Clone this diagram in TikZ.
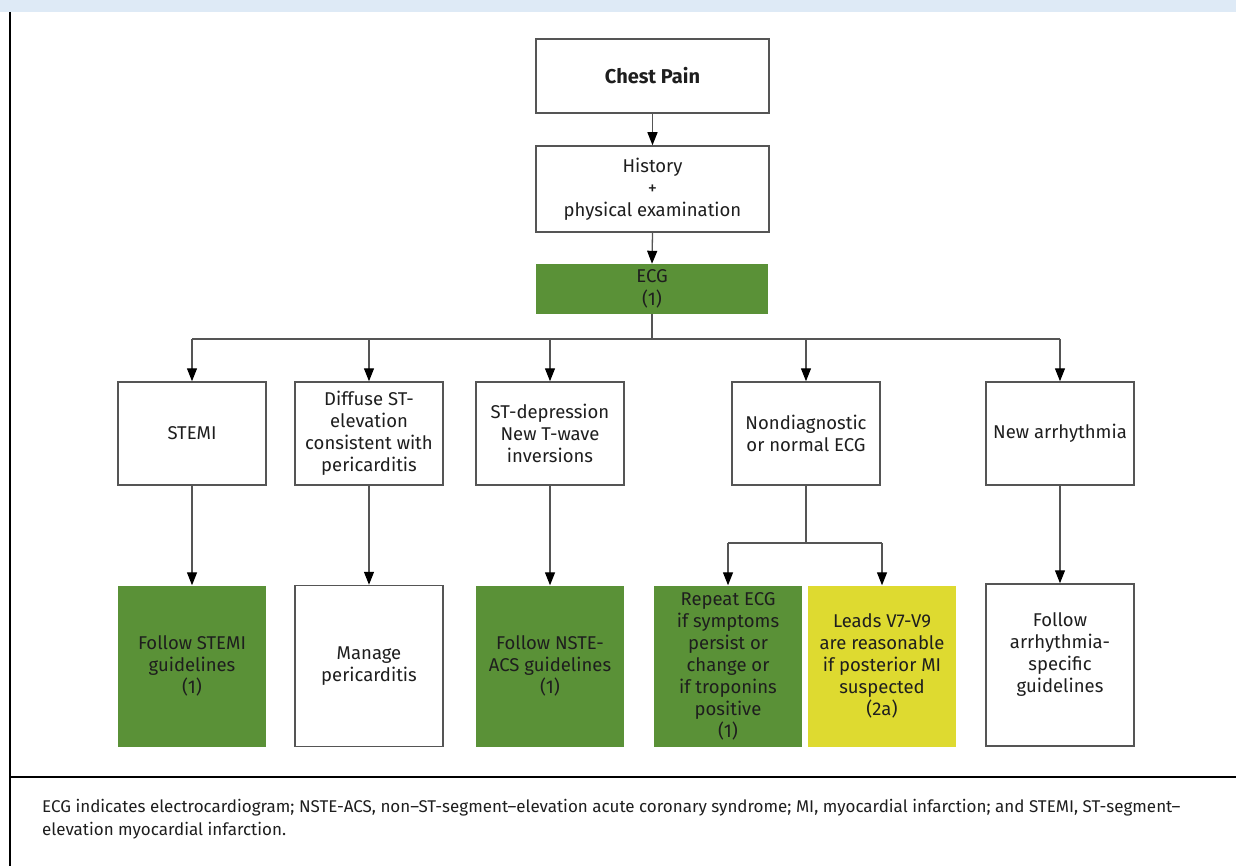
\documentclass[tikz,border=0pt]{standalone}
\usepackage{fontspec}
\setmainfont{Fira Sans}
\usetikzlibrary{arrows.meta}

\definecolor{boxgreen}{RGB}{90,145,55}
\definecolor{boxyellow}{RGB}{222,218,48}
\definecolor{bandblue}{RGB}{222,234,246}
\definecolor{linegray}{RGB}{85,85,85}
\definecolor{inkdark}{RGB}{30,30,30}

\begin{document}
\begin{tikzpicture}[x=1pt,y=-1pt,
  every node/.style={inner sep=0pt, align=center, text=inkdark},
  txt/.style={font=\fontsize{18.5}{22}\selectfont},
  whitebox/.style={txt, draw=linegray, line width=1.5pt, fill=white},
  greenbox/.style={txt, fill=boxgreen},
  yellowbox/.style={txt, fill=boxyellow},
  topbox/.style={minimum width=233pt},
  midbox/.style={minimum width=148pt, minimum height=103pt},
  lowbox/.style={minimum width=148pt, minimum height=161pt},
  conn/.style={draw=linegray, line width=1.3pt},
  arr/.style={conn, -{Triangle[length=13pt,width=10pt,color=black]}},
  foot/.style={anchor=base west, font=\fontsize{17}{23}\selectfont, text=inkdark}
]
\useasboundingbox (0,0) rectangle (1236,866);

% frame: blue band, left rule, caption rule
\fill[bandblue] (0,0) rectangle (1236,12);
\draw[black, line width=2pt] (10,12) -- (10,866);
\draw[black, line width=2pt] (10,777) -- (1236,777);

% top chain
\node[whitebox, topbox, minimum height=74pt, font=\bfseries\fontsize{20}{24}\selectfont] (chest) at (652.5,76) {Chest Pain};
\node[whitebox, topbox, minimum height=86pt] (hist) at (652.5,189) {History\\+\\physical examination};
\node[greenbox, minimum width=232pt, minimum height=50pt, font=\fontsize{18.5}{23}\selectfont] (ecg) at (652,289) {ECG\\(1)};

% ECG findings
\node[whitebox, midbox] (stemi)   at (192,433.5)  {STEMI};
\node[whitebox, midbox] (diffuse) at (369,433.5)  {Diffuse ST-\\elevation\\consistent with\\pericarditis};
\node[whitebox, midbox] (stdep)   at (550,433.5)  {ST-depression\\New T-wave\\inversions};
\node[whitebox, midbox] (nondiag) at (806,433.5)  {Nondiagnostic\\or normal ECG};
\node[whitebox, midbox] (arrh)    at (1060,433.5) {New arrhythmia};

% management
\node[greenbox, lowbox]  (fstemi) at (192,666)  {Follow STEMI\\guidelines\\(1)};
\node[whitebox, lowbox]  (manage) at (369,666)  {Manage\\pericarditis};
\node[greenbox, lowbox]  (fnste)  at (550,666)  {Follow NSTE-\\ACS guidelines\\(1)};
\node[greenbox, lowbox]  (repeat) at (728,666)  {Repeat ECG\\if symptoms\\persist or\\change or\\if troponins\\positive\\(1)};
\node[yellowbox, lowbox] (leads)  at (882,666)  {Leads V7-V9\\are reasonable\\if posterior MI\\suspected\\(2a)};
\node[whitebox, lowbox, minimum height=162pt] (farrh) at (1060,665) {};
\node[txt] (farrhtxt) at (1060,655) {Follow\\arrhythmia-\\specific\\guidelines};

% connectors
\coordinate (bus) at (652,339);
\coordinate (split) at (806,543);
\draw[arr] (chest.south) -- (hist.north);
\draw[arr] (hist.south) -- (ecg.north);
\draw[conn] (ecg.south) -- (bus);
\draw[conn] (stemi.north |- bus) -- (arrh.north |- bus);
\foreach \n in {stemi,diffuse,stdep,nondiag,arrh}
  \draw[arr] (\n.north |- bus) -- (\n.north);
\draw[arr] (stemi.south) -- (fstemi.north);
\draw[arr] (diffuse.south) -- (manage.north);
\draw[arr] (stdep.south) -- (fnste.north);
\draw[arr] (arrh.south) -- (farrh.north);
\draw[conn] (nondiag.south) -- (split);
\draw[conn] (repeat.north |- split) -- (leads.north |- split);
\draw[arr] (repeat.north |- split) -- (repeat.north);
\draw[arr] (leads.north |- split) -- (leads.north);

% caption
\node[foot] (cap1) at (42,812) {ECG indicates electrocardiogram; NSTE-ACS, non–ST-segment–elevation acute coronary syndrome; MI, myocardial infarction; and STEMI, ST-segment–};
\node[foot] (cap2) at (42,835) {elevation myocardial infarction.};
\end{tikzpicture}
\end{document}
